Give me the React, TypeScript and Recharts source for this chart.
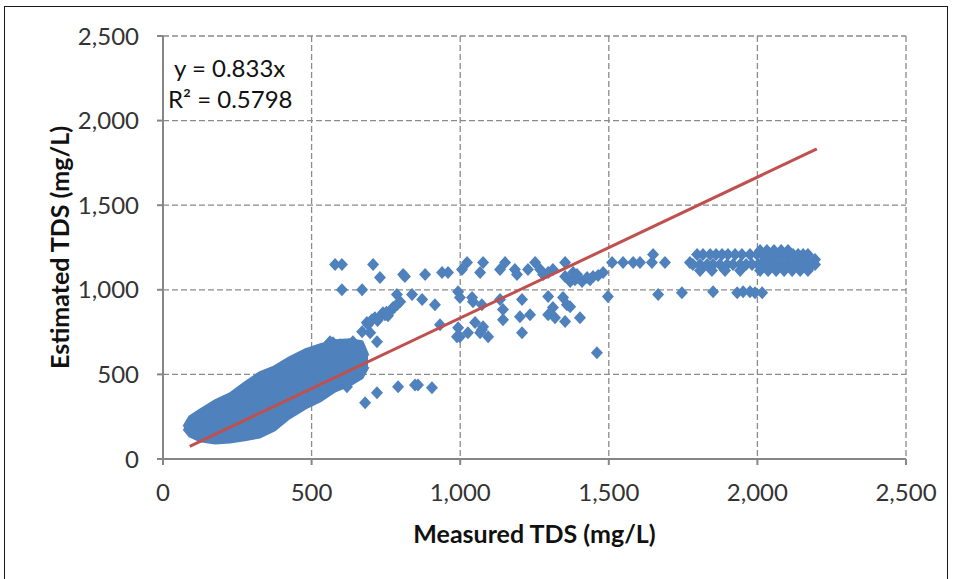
import React from 'react';
import { ComposedChart, Area, Scatter, XAxis, YAxis, CartesianGrid, Label } from 'recharts';

// dense low-TDS cloud, read as an envelope (measured x, estimated low / high)
const blobMeasured = [70, 90, 125, 175, 225, 275, 325, 375, 425, 480, 530, 580, 630, 670, 690];
const blobLow = [178, 136, 107, 95, 101, 113, 130, 172, 243, 302, 344, 403, 438, 480, 545];
const blobHigh = [190, 249, 290, 344, 385, 450, 509, 545, 598, 646, 675, 699, 705, 693, 610];

// individual samples outside the cloud [measured, estimated]
const looseSamples: [number, number][] = [
  [562, 693], [572, 687], [596, 675], [639, 693], [670, 752], [686, 806], [697, 746], [720, 693],
  [703, 823], [713, 835], [730, 841], [740, 865], [747, 853], [757, 847], [764, 871], [774, 895],
  [787, 912], [798, 930], [690, 794], [722, 818], [752, 868], [780, 900],
  [579, 1149], [602, 1149], [707, 1149], [730, 1072], [602, 1001], [670, 1001],
  [808, 1090], [814, 1078], [882, 1090], [939, 1102], [959, 1102],
  [787, 972], [838, 972], [872, 942], [915, 912], [932, 794], [993, 776], [989, 723],
  [619, 427], [680, 332], [720, 391], [791, 427], [848, 438], [858, 438], [905, 421],
  [1006, 1120], [1023, 1161], [1077, 1161], [1067, 1102], [1134, 1120], [1151, 1161], [1184, 1120],
  [1191, 1090], [1228, 1120], [1252, 1161], [1269, 1120], [1279, 1090], [1296, 1102], [1312, 1120],
  [1353, 1161], [1353, 1078], [1370, 1049], [1380, 1102], [1396, 1072], [1410, 1049], [1427, 1072],
  [1447, 1078], [1481, 1102], [1386, 1060], [1437, 1060], [1464, 1084], [1393, 1090],
  [1511, 1161], [1548, 1161], [1582, 1161], [1605, 1161], [1645, 1161], [1649, 1208], [1689, 1161],
  [1773, 1161], [1797, 1208], [1814, 1131],
  [993, 989], [999, 954], [1040, 954], [1043, 930], [1073, 912], [1134, 942], [1208, 942], [1144, 883],
  [1296, 960], [1346, 954], [1359, 912], [1497, 960], [1666, 972], [1746, 983], [1312, 895], [1370, 900],
  [999, 723], [1026, 746], [1050, 806], [1073, 764], [1077, 782], [1094, 723], [1144, 823], [1208, 746],
  [1235, 853], [1296, 853], [1319, 835], [1353, 812], [1403, 835], [1460, 628], [1201, 841], [1067, 746],
  [1851, 989], [1932, 983], [1952, 989], [1975, 989], [1992, 983], [2016, 983],
];

// high-TDS band on the right
const bandMeasuredA = [1817, 1841, 1861, 1881, 1901, 1925, 1948, 1975, 1999, 2019, 2036, 2053, 2069, 2086, 2103, 2120, 2137, 2154, 2170];
const bandMeasuredB = [1783, 1807, 1831, 1851, 1874, 1898, 1918, 1942, 1962, 1982, 2002, 2022, 2043, 2063, 2083, 2103, 2123, 2144, 2164, 2184, 2194];
const bandMeasuredC = [1807, 1847, 1891, 1942, 2009, 2036, 2063, 2090, 2117, 2144, 2170];
const bandMeasuredD = [2009, 2032, 2056, 2080, 2103];
const bandMeasuredE = [2025, 2059, 2093, 2127, 2160, 2194];
const bandEstimated = { A: 1208, B: 1149, C: 1114, D: 1232, E: 1179 };

const trendMeasured = [90, 2200];
const slope = 0.833;
const axisTicks = [0, 500, 1000, 1500, 2000, 2500];

const blobData = blobMeasured.map((x, i) => ({ x, band: [blobLow[i], blobHigh[i]] }));
const pointData = [
  ...looseSamples.map(([x, y]) => ({ x, y })),
  ...bandMeasuredA.map((x) => ({ x, y: bandEstimated.A })),
  ...bandMeasuredB.map((x) => ({ x, y: bandEstimated.B })),
  ...bandMeasuredC.map((x) => ({ x, y: bandEstimated.C })),
  ...bandMeasuredD.map((x) => ({ x, y: bandEstimated.D })),
  ...bandMeasuredE.map((x) => ({ x, y: bandEstimated.E })),
];
const trendData = trendMeasured.map((x) => ({ x, y: slope * x }));

const BLUE = '#4F81BD';
const FONT = 'Lato, "Open Sans", sans-serif';

const Diamond = (props: any) => {
  const { cx, cy } = props;
  if (cx == null || cy == null) return <g />;
  return <polygon points={`${cx},${cy - 6.5} ${cx + 6},${cy} ${cx},${cy + 6.5} ${cx - 6},${cy}`} fill={BLUE} />;
};

const fmt = (v: number) => v.toLocaleString('en-US');

export default function App() {
  return (
    <div style={{ position: 'absolute', left: 0, top: 0, width: 956, height: 579, overflow: 'hidden', background: '#fff', fontFamily: FONT }}>
      <div style={{ position: 'absolute', left: 4, top: 6, width: 942, height: 600, border: '1.5px solid #1a1a1a' }} />
      <div style={{ position: 'absolute', left: 0, top: 0 }}>
        <ComposedChart width={956} height={579} data={blobData} margin={{ top: 36, right: 50, bottom: 60, left: 83 }}>
          <CartesianGrid stroke="#8a8a8a" strokeWidth={1.3} strokeDasharray="6 3" />
          <XAxis
            type="number"
            dataKey="x"
            domain={[0, 2500]}
            ticks={axisTicks}
            tickFormatter={fmt}
            height={60}
            stroke="#868686"
            strokeWidth={2}
            tickSize={6}
            tickMargin={19}
            tick={{ fill: '#333', fontSize: 24, fontFamily: FONT }}
          >
            <Label
              content={({ viewBox }: any) => (
                <text x={viewBox.x + viewBox.width / 2} y={viewBox.y + 74} textAnchor="middle" dominantBaseline="central" fontFamily={FONT} fontWeight="bold" fontSize={25} fill="#111">
                  Measured TDS (mg/L)
                </text>
              )}
            />
          </XAxis>
          <YAxis
            type="number"
            dataKey="y"
            domain={[0, 2500]}
            ticks={axisTicks}
            tickFormatter={fmt}
            width={80}
            stroke="#868686"
            strokeWidth={2}
            tickSize={6}
            tickMargin={18}
            tick={{ fill: '#333', fontSize: 24, fontFamily: FONT }}
          >
            <Label
              content={({ viewBox }: any) => {
                const x = viewBox.x - 24;
                const y = viewBox.y + viewBox.height / 2;
                return (
                  <text x={x} y={y} transform={`rotate(-90 ${x} ${y})`} textAnchor="middle" dominantBaseline="central" fontFamily={FONT} fontWeight="bold" fontSize={25} fill="#111">
                    Estimated TDS (mg/L)
                  </text>
                );
              }}
            />
          </YAxis>
          <Area type="linear" dataKey="band" fill={BLUE} fillOpacity={1} stroke={BLUE} strokeWidth={3} dot={false} activeDot={false} isAnimationActive={false} />
          <Scatter data={pointData} shape={<Diamond />} isAnimationActive={false} />
          <Scatter data={trendData} line={{ stroke: '#C0504D', strokeWidth: 3 }} shape={() => <g />} isAnimationActive={false} />
        </ComposedChart>
      </div>
      <div style={{ position: 'absolute', left: 168, top: 52, fontSize: 24, lineHeight: '31px', color: '#111', fontFamily: FONT }}>
        <div style={{ paddingLeft: 6 }}>y = 0.833x</div>
        <div>R² = 0.5798</div>
      </div>
    </div>
  );
}
